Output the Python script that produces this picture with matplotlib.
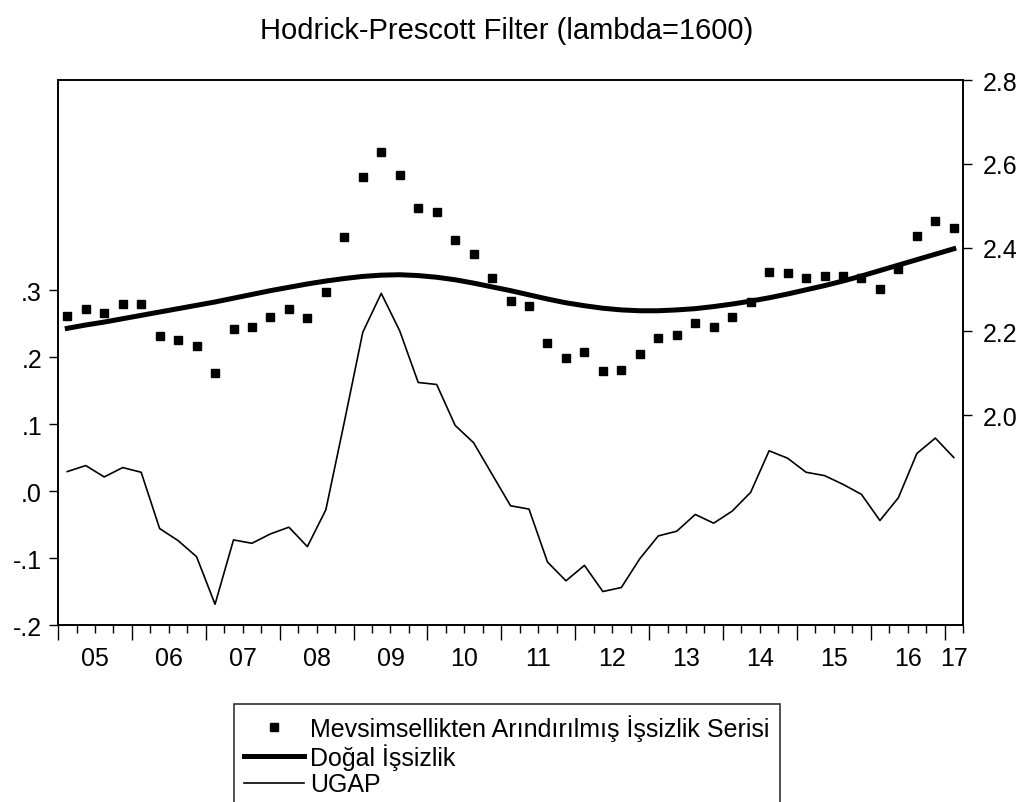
import numpy as np
import matplotlib
matplotlib.use("Agg")
import matplotlib.pyplot as plt

plt.rcParams['font.family'] = ['Liberation Sans', 'DejaVu Sans']

# quarterly, 2005Q1 .. 2017Q1
years = ["05", "06", "07", "08", "09", "10", "11", "12", "13", "14", "15", "16", "17"]

unemp_sa = [2.236, 2.253, 2.244, 2.265, 2.265, 2.189, 2.179, 2.165, 2.101, 2.205,
            2.210, 2.233, 2.253, 2.231, 2.294, 2.424, 2.568, 2.629, 2.572, 2.494,
            2.486, 2.419, 2.385, 2.327, 2.273, 2.260, 2.171, 2.136, 2.151, 2.106,
            2.108, 2.146, 2.183, 2.191, 2.219, 2.210, 2.234, 2.271, 2.341, 2.339,
            2.327, 2.332, 2.332, 2.327, 2.301, 2.349, 2.428, 2.464, 2.447]

natural = [2.207, 2.215, 2.222, 2.230, 2.238, 2.246, 2.254, 2.262, 2.270, 2.279,
           2.288, 2.297, 2.305, 2.313, 2.320, 2.326, 2.331, 2.334, 2.335, 2.333,
           2.329, 2.323, 2.315, 2.306, 2.297, 2.287, 2.277, 2.268, 2.261, 2.255,
           2.251, 2.249, 2.249, 2.251, 2.254, 2.259, 2.265, 2.272, 2.280, 2.289,
           2.299, 2.309, 2.320, 2.332, 2.345, 2.358, 2.371, 2.384, 2.397]

ugap = [0.029, 0.038, 0.021, 0.035, 0.028, -0.056, -0.074, -0.098, -0.169, -0.073,
        -0.078, -0.064, -0.054, -0.083, -0.028, 0.103, 0.237, 0.295, 0.239, 0.162,
        0.159, 0.098, 0.072, 0.025, -0.022, -0.027, -0.106, -0.134, -0.111, -0.150,
        -0.144, -0.101, -0.067, -0.060, -0.035, -0.048, -0.030, -0.002, 0.060, 0.049,
        0.028, 0.023, 0.010, -0.005, -0.044, -0.010, 0.056, 0.079, 0.050]

n = len(ugap)
t = np.arange(n)

fig = plt.figure(figsize=(10.22, 8.03), dpi=100)
ax = fig.add_axes([0.0568, 0.2204, 0.8855, 0.6787])
ax2 = ax.twinx()

l3, = ax.plot(t, ugap, color="black", lw=1.2, label="UGAP")
p1, = ax2.plot(t, unemp_sa, ls="none", marker="s", ms=5.6, color="black",
               label="Mevsimsellikten Arındırılmış İşsizlik Serisi")
l2, = ax2.plot(t, natural, color="black", lw=3.6, label="Doğal İşsizlik")

ax.set_xlim(-0.5, n - 0.5)
ax.set_ylim(-0.2, 0.6134)
ax2.set_ylim(1.4985, 2.8)

ax.set_yticks([-0.2, -0.1, 0.0, 0.1, 0.2, 0.3])
ax.set_yticklabels(["-.2", "-.1", ".0", ".1", ".2", ".3"])
ax2.set_yticks([2.0, 2.2, 2.4, 2.6, 2.8])
ax2.set_yticklabels(["2.0", "2.2", "2.4", "2.6", "2.8"])

# quarter ticks, long ones at year boundaries, labels centred in each year
ax.set_xticks(np.arange(-0.5, n, 4))
ax.set_xticks(np.arange(-0.5, n, 1), minor=True)
ax.set_xticklabels([])
ax.tick_params(axis="x", which="major", length=11, width=1, direction="out")
ax.tick_params(axis="x", which="minor", length=6, width=1, direction="out")
for k, y in enumerate(years):
    xc = 1.5 + 4 * k if k < len(years) - 1 else n - 1
    ax.text(xc, -0.2 - 0.059, y, ha="center", va="baseline", fontsize=18)

ax.tick_params(axis="y", length=6.5, width=1, labelsize=18, pad=5)
ax2.tick_params(axis="y", length=6.5, width=1, labelsize=18, pad=8)

for a in (ax, ax2):
    for s in a.spines.values():
        s.set_linewidth(1.2)

fig.text(0.496, 0.951, "Hodrick-Prescott Filter (lambda=1600)", ha="center",
         va="baseline", fontsize=21)

leg = fig.legend([p1, l2, l3], [p1.get_label(), l2.get_label(), l3.get_label()],
                 loc="upper left", bbox_to_anchor=(0.229, 0.122), fontsize=18,
                 frameon=True, fancybox=False, edgecolor="black",
                 borderpad=0.4, handlelength=2.4, handletextpad=0.25,
                 labelspacing=0.1, borderaxespad=0)
leg.get_frame().set_linewidth(1.2)

fig.savefig("out.png", dpi=100)
